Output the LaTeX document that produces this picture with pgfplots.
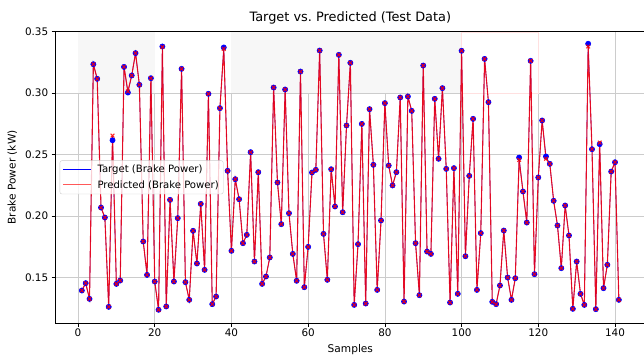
\documentclass[border=0pt]{standalone}
\usepackage{pgfplots}
\pgfplotsset{compat=1.18}
\usepackage{pgfplotstable}
\usepackage{fontspec}
\setmainfont{DejaVu Sans}

\pgfplotstableread{
x t p
1 0.1394 0.1394
2 0.1454 0.1454
3 0.1326 0.1326
4 0.3236 0.3236
5 0.3117 0.3117
6 0.2069 0.2069
7 0.1988 0.1988
8 0.1261 0.1261
9 0.2617 0.2655
10 0.1448 0.1448
11 0.1475 0.1475
12 0.3214 0.3214
13 0.3005 0.3015
14 0.3144 0.3144
15 0.3326 0.3326
16 0.3068 0.3068
17 0.1793 0.1793
18 0.1521 0.1521
19 0.3122 0.3122
20 0.1467 0.1467
21 0.1237 0.1237
22 0.3380 0.3375
23 0.1264 0.1264
24 0.2132 0.2132
25 0.1467 0.1467
26 0.1983 0.1983
27 0.3198 0.3198
28 0.1462 0.1462
29 0.1318 0.1318
30 0.1880 0.1880
31 0.1614 0.1614
32 0.2099 0.2099
33 0.1562 0.1562
34 0.2995 0.2995
35 0.1283 0.1283
36 0.1345 0.1345
37 0.2878 0.2878
38 0.3372 0.3360
39 0.2368 0.2368
40 0.1717 0.1717
41 0.2300 0.2300
42 0.2137 0.2137
43 0.1779 0.1779
44 0.1847 0.1847
45 0.2520 0.2520
46 0.1630 0.1630
47 0.2357 0.2357
48 0.1448 0.1448
49 0.1508 0.1508
50 0.1663 0.1663
51 0.3046 0.3046
52 0.2273 0.2273
53 0.1934 0.1934
54 0.3030 0.3030
55 0.2023 0.2023
56 0.1692 0.1692
57 0.1473 0.1473
58 0.3176 0.3176
59 0.1421 0.1421
60 0.1749 0.1749
61 0.2354 0.2354
62 0.2376 0.2376
63 0.3347 0.3347
64 0.1855 0.1855
65 0.1481 0.1481
66 0.2381 0.2381
67 0.2078 0.2078
68 0.3312 0.3312
69 0.2031 0.2031
70 0.2737 0.2737
71 0.3247 0.3247
72 0.1277 0.1277
73 0.1771 0.1771
74 0.2750 0.2750
75 0.1288 0.1288
76 0.2870 0.2870
77 0.2417 0.2417
78 0.1399 0.1399
79 0.1964 0.1964
80 0.2919 0.2919
81 0.2411 0.2411
82 0.2249 0.2249
83 0.2357 0.2357
84 0.2965 0.2965
85 0.1304 0.1304
86 0.2973 0.2973
87 0.2856 0.2856
88 0.1779 0.1779
89 0.1356 0.1356
90 0.3225 0.3225
91 0.1711 0.1711
92 0.1692 0.1692
93 0.2954 0.2954
94 0.2466 0.2466
95 0.3041 0.3041
96 0.2384 0.2384
97 0.1296 0.1296
98 0.2390 0.2390
99 0.1367 0.1367
100 0.3345 0.3345
101 0.1673 0.1673
102 0.2327 0.2327
103 0.2791 0.2791
104 0.1399 0.1399
105 0.1861 0.1861
106 0.3279 0.3279
107 0.2927 0.2927
108 0.1302 0.1302
109 0.1283 0.1283
110 0.1435 0.1435
111 0.1882 0.1882
112 0.1500 0.1500
113 0.1318 0.1318
114 0.1494 0.1494
115 0.2476 0.2457
116 0.2200 0.2200
117 0.1947 0.1947
118 0.3263 0.3263
119 0.1527 0.1527
120 0.2314 0.2314
121 0.2778 0.2778
122 0.2485 0.2466
123 0.2425 0.2425
124 0.2124 0.2124
125 0.1923 0.1923
126 0.1576 0.1576
127 0.2086 0.2086
128 0.1842 0.1842
129 0.1245 0.1245
130 0.1630 0.1630
131 0.1367 0.1367
132 0.1277 0.1277
133 0.3402 0.3380
134 0.2544 0.2544
135 0.1242 0.1242
136 0.2585 0.2598
137 0.1413 0.1413
138 0.1603 0.1603
139 0.2362 0.2362
140 0.2438 0.2438
141 0.1318 0.1318
}\data

\begin{document}
\begin{tikzpicture}
\begin{axis}[
  name=ax,
  scale only axis,
  width=590.7pt, height=291.7pt,
  xmin=-6, xmax=148, ymin=0.1128, ymax=0.3502,
  xtick={0,20,40,60,80,100,120,140},
  ytick={0.15,0.20,0.25,0.30,0.35},
  yticklabel style={/pgf/number format/.cd, fixed, fixed zerofill, precision=2},
  /pgf/number format/assume math mode=true,
  tick label style={font=\fontsize{10.4}{12}\selectfont},
  label style={font=\fontsize{10.6}{12}\selectfont},
  xticklabel style={yshift=1pt},
  tick pos=left,
  tick align=outside,
  major tick length=3.3pt,
  every tick/.style={black, line width=0.7pt},
  axis line style={black, line width=0.7pt},
  grid=major,
  grid style={black!20, line width=0.7pt},
  xlabel={Samples},
  ylabel={Brake Power (kW)},
  xlabel style={yshift=-1pt},
  ylabel style={yshift=1pt},
  title={Target vs.\ Predicted (Test Data)},
  title style={font=\fontsize{12.9}{14}\selectfont, yshift=-2pt},
  legend style={at={(0.008,0.5)}, anchor=west, fill=white, fill opacity=0.8,
    text opacity=1, draw=black!20, rounded corners=2pt,
    font=\fontsize{10.1}{12}\selectfont, inner sep=2.5pt, row sep=2pt,
    cells={anchor=west}},
  legend cell align=left,
]
\fill[black!3] (axis cs:0,0.30) rectangle (axis cs:20,0.3496);
\fill[black!3] (axis cs:40,0.30) rectangle (axis cs:100,0.3496);
\draw[red!12] (axis cs:100,0.30) rectangle (axis cs:120,0.3494);
\addplot[blue, line width=0.6pt, mark=*, mark size=2.6pt, mark options={solid},
  legend image code/.code={\draw[draw=blue, draw opacity=1, line width=1pt] (2pt,0pt) -- (30pt,0pt); \path (34pt,0pt);}] table[x=x,y=t]{\data};
\addlegendentry{Target (Brake Power)}
\addplot[red, opacity=0.85, line width=1.1pt, mark=x, mark size=2.6pt, mark options={solid},
  legend image code/.code={\draw[draw=red, draw opacity=0.65, line width=1.1pt] (2pt,0pt) -- (30pt,0pt); \path (34pt,0pt);}] table[x=x,y=p]{\data};
\addlegendentry{Predicted (Brake Power)}
\end{axis}
\pgfresetboundingbox
\path ([shift={(-55pt,-32.8pt)}]ax.south west) rectangle ([shift={(-1.7pt,31.5pt)}]ax.north east);
\end{tikzpicture}
\end{document}
